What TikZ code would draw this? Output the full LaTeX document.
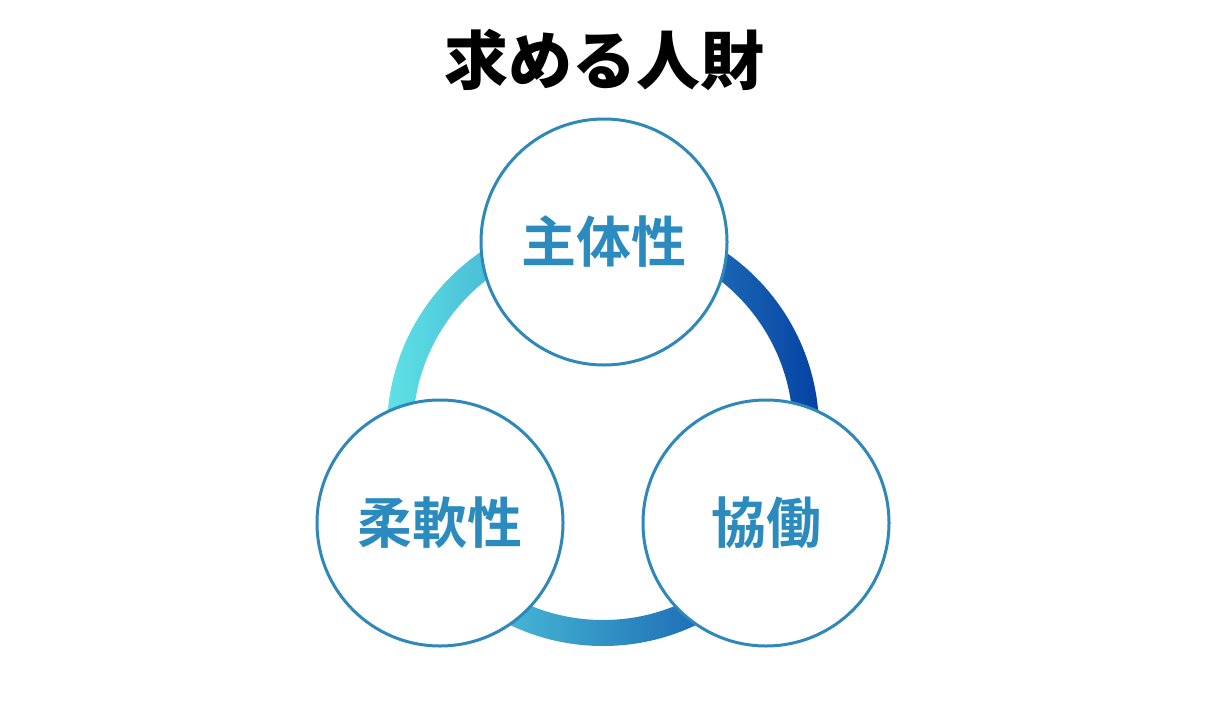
\documentclass[tikz,border=0pt]{standalone}
\usepackage{fontspec}
\newfontfamily\cjk{Noto Sans CJK JP}[BoldFont={Noto Sans CJK JP Bold}]
\newfontfamily\cjkblack{Noto Sans CJK JP Black}
\definecolor{ringL}{HTML}{5EE2E6}
\definecolor{ringR}{HTML}{0642A4}
\definecolor{circB}{HTML}{2E88BA}
\definecolor{txtB}{HTML}{2B8BBF}
\begin{document}
\begin{tikzpicture}[x=1pt,y=-1pt,
  bubble/.style={circle,draw=circB,line width=3pt,fill=white,minimum size=246pt,inner sep=0pt,
    font=\cjk\bfseries\fontsize{55}{60}\selectfont,text=txtB}]
\useasboundingbox (0,0) rectangle (1207,720);
\coordinate (c) at (603,430);
\path[left color=ringL,right color=ringR,even odd rule]
  (c) circle[radius=216] (c) circle[radius=190];
\node[bubble] (top) at (604,242) {主体性};
\node[bubble] (left) at (440,523) {柔軟性};
\node[bubble] (right) at (766,523) {協働};
\node[font=\cjkblack\fontsize{64}{70}\selectfont] (title) at (604,60) {求める人財};
\end{tikzpicture}
\end{document}
